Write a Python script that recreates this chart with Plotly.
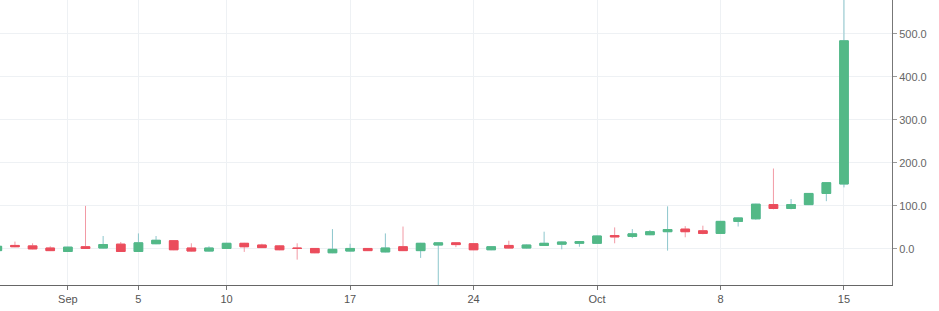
import plotly.graph_objects as go

dates = ["2018-08-28", "2018-08-29", "2018-08-30", "2018-08-31", "2018-09-01", "2018-09-02",
         "2018-09-03", "2018-09-04", "2018-09-05", "2018-09-06", "2018-09-07", "2018-09-08",
         "2018-09-09", "2018-09-10", "2018-09-11", "2018-09-12", "2018-09-13", "2018-09-14",
         "2018-09-15", "2018-09-16", "2018-09-17", "2018-09-18", "2018-09-19", "2018-09-20",
         "2018-09-21", "2018-09-22", "2018-09-23", "2018-09-24", "2018-09-25", "2018-09-26",
         "2018-09-27", "2018-09-28", "2018-09-29", "2018-09-30", "2018-10-01", "2018-10-02",
         "2018-10-03", "2018-10-04", "2018-10-05", "2018-10-06", "2018-10-07", "2018-10-08",
         "2018-10-09", "2018-10-10", "2018-10-11", "2018-10-12", "2018-10-13", "2018-10-14",
         "2018-10-15"]
open_ = [-4, 8, 7, 2, -6, 5, 2, 11, -6, 12, 19, 2, -5, 1, 13, 9, 7, 2,
         1, -9, -5, 1, -7, 5, -4, 9, 14, 12, -2, 8, 2, 8, 11, 13, 13, 31,
         29, 33, 40, 46, 42, 36, 64, 70, 103, 94, 103, 129, 151]
high = [8, 17, 13, 6, 5, 100, 30, 16, 36, 30, 20, 13, 6, 14, 14, 12, 8, 13,
        2, 46, 12, 2, 36, 52, 14, 15, 15, 13, 6, 19, 10, 40, 17, 18, 31, 50,
        46, 44, 99, 53, 54, 65, 73, 105, 187, 116, 130, 155, 650]
low = [-5, 4, -1, -5, -7, 0, 1, -7, -7, 11, -3, -6, -6, 0, -7, 2, -3, -25,
       -10, -10, -6, -5, -8, -5, -21, -95, 4, -3, -3, 1, 1, 7, -1, 5, 12, 13,
       25, 32, -4, 27, 34, 35, 52, 68, 92, 92, 102, 111, 143]
close = [6, 5, 0, -4, 4, 1, 10, -6, 14, 20, -2, -5, 2, 13, 5, 3, -2, 1,
         -9, -1, 1, -4, 2, -4, 13, 14, 10, -2, 5, 2, 9, 13, 16, 17, 30, 28,
         35, 40, 45, 40, 36, 64, 72, 104, 94, 103, 129, 154, 484]

tick_dates = ["2018-09-01", "2018-09-05", "2018-09-10", "2018-09-17", "2018-09-24",
              "2018-10-01", "2018-10-08", "2018-10-15"]
tick_labels = ["Sep", "5", "10", "17", "24", "Oct", "8", "15"]
y_ticks = [0, 100, 200, 300, 400, 500]

UP, DOWN = "#53b987", "#eb4d5c"
UP_WICK, DOWN_WICK = "#8cc6cc", "#f29aa5"

# full candles (wicks in lighter tone)
fig = go.Figure(go.Candlestick(
    x=dates, open=open_, high=high, low=low, close=close,
    increasing=dict(line=dict(color=UP_WICK, width=1), fillcolor=UP),
    decreasing=dict(line=dict(color=DOWN_WICK, width=1), fillcolor=DOWN),
    showlegend=False, hoverinfo="skip",
))
# bodies drawn on top with crisp edges
body_hi = [max(o, c) for o, c in zip(open_, close)]
body_lo = [min(o, c) for o, c in zip(open_, close)]
fig.add_trace(go.Candlestick(
    x=dates, open=open_, high=body_hi, low=body_lo, close=close,
    increasing=dict(line=dict(color=UP, width=1), fillcolor=UP),
    decreasing=dict(line=dict(color=DOWN, width=1), fillcolor=DOWN),
    showlegend=False,
))

grid = "#eef1f4"
fig.update_layout(
    width=939, height=311,
    margin=dict(l=0, r=47, t=0, b=26),
    paper_bgcolor="white", plot_bgcolor="white",
    font=dict(family="Liberation Sans, Arial, sans-serif", size=11, color="#777777"),
    xaxis=dict(
        type="date",
        range=["2018-08-28 03:40", "2018-10-17 17:20"],
        rangeslider=dict(visible=False),
        tickvals=tick_dates, ticktext=tick_labels,
        showgrid=True, gridcolor=grid, gridwidth=1,
        showline=True, linecolor="#666666", linewidth=1,
        ticks="outside", ticklen=4, tickcolor="#777777",
        tickfont=dict(size=11, color="#555555"),
    ),
    yaxis=dict(
        side="right",
        range=[-84, 579],
        tickvals=y_ticks, tickformat=".1f",
        showgrid=True, gridcolor=grid, gridwidth=1,
        zeroline=True, zerolinecolor=grid, zerolinewidth=1,
        showline=True, linecolor="#777777", linewidth=1,
        ticks="outside", ticklen=4, tickcolor="#999999",
        tickfont=dict(size=11, color="#666666"),
    ),
)

fig.write_html("out.html")
